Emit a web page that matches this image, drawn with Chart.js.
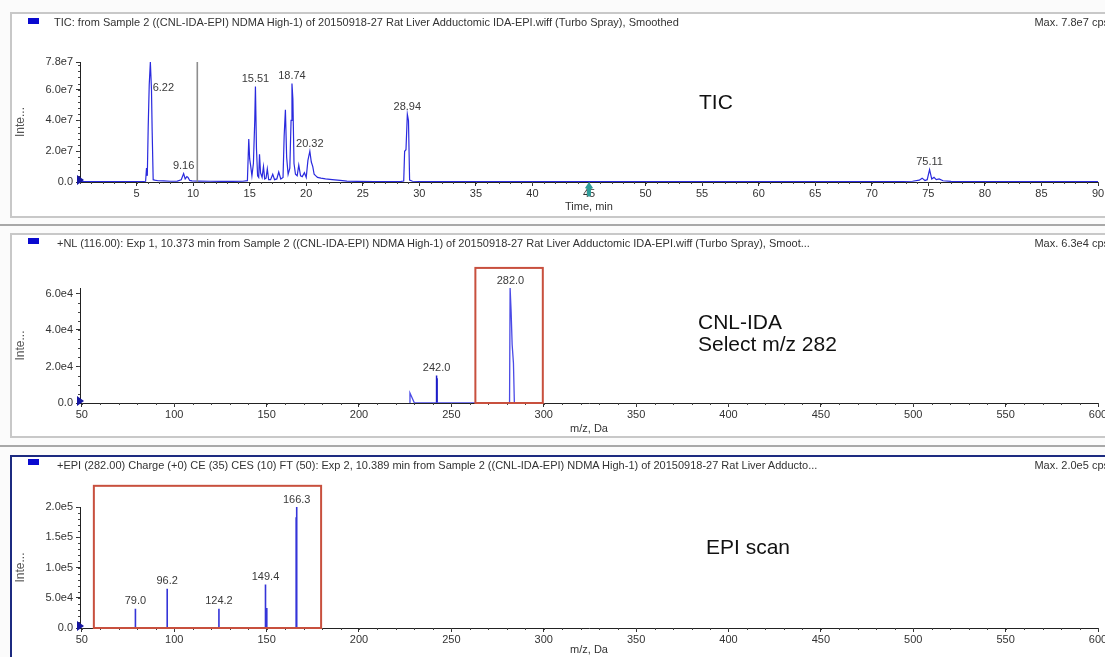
<!DOCTYPE html>
<html>
<head>
<meta charset="utf-8">
<script src="https://cdn.jsdelivr.net/npm/chart.js@4.4.0/dist/chart.umd.min.js"></script>
<style>
  html, body { margin: 0; padding: 0; overflow: hidden; }
  body { width: 1105px; height: 657px; position: relative; background: #fbfbfb;
         font-family: "Liberation Sans", Arial, sans-serif; color: #333; }
  .panel { position: absolute; left: 10px; width: 1110px; box-sizing: border-box;
           border: 2px solid #c8c8c8; background: #fff; }
  .sep { position: absolute; left: 0; width: 1105px; height: 2px; background: #a8a8a8; }
  canvas { position: absolute; left: 12px; }
  .ttl { position: absolute; font-size: 11px; line-height: 12px; white-space: nowrap; color: #333; }
  .max { position: absolute; right: -4px; font-size: 11px; line-height: 12px; white-space: nowrap; color: #333; }
  .sq { position: absolute; left: 28px; width: 11px; height: 6px; background: #0a0ad0; }
  .note { position: absolute; font-size: 21px; line-height: 22px; white-space: nowrap; color: #111; }
</style>
</head>
<body>
<div class="panel" style="top:12px;height:206px"></div>
<div class="sep" style="top:224px"></div>
<div class="panel" style="top:233px;height:205px"></div>
<div class="sep" style="top:445px"></div>
<div class="panel" style="top:455px;height:210px;border-color:#1c2a80;"></div>

<canvas id="tic" width="1093" height="202" style="top:14px"></canvas>
<canvas id="nl" width="1093" height="201" style="top:235px"></canvas>
<canvas id="epi" width="1093" height="199" style="top:458px"></canvas>

<div class="sq" style="top:18px"></div>
<div class="ttl" style="left:54px;top:16px">TIC: from Sample 2 ((CNL-IDA-EPI) NDMA High-1) of 20150918-27 Rat Liver Adductomic IDA-EPI.wiff (Turbo Spray), Smoothed</div>
<div class="max" style="top:16px">Max. 7.8e7 cps</div>

<div class="sq" style="top:238px"></div>
<div class="ttl" style="left:57px;top:237px">+NL (116.00): Exp 1, 10.373 min from Sample 2 ((CNL-IDA-EPI) NDMA High-1) of 20150918-27 Rat Liver Adductomic IDA-EPI.wiff (Turbo Spray), Smoot...</div>
<div class="max" style="top:237px">Max. 6.3e4 cps</div>

<div class="sq" style="top:459px"></div>
<div class="ttl" style="left:57px;top:459px">+EPI (282.00) Charge (+0) CE (35) CES (10) FT (50): Exp 2, 10.389 min from Sample 2 ((CNL-IDA-EPI) NDMA High-1) of 20150918-27 Rat Liver Adducto...</div>
<div class="max" style="top:459px">Max. 2.0e5 cps</div>

<div class="note" style="left:699px;top:91px">TIC</div>
<div class="note" style="left:698px;top:311px">CNL-IDA</div>
<div class="note" style="left:698px;top:333px">Select m/z 282</div>
<div class="note" style="left:706px;top:536px">EPI scan</div>

<script>
// TIC chromatogram (time in min, intensity in cps)
const ticTime = [
  0, 1, 2, 3, 4, 5, 5.5, 5.8, 5.88, 5.95,
  6.03, 6.12, 6.22, 6.32, 6.38, 6.47, 6.6, 6.9, 7.4, 8.0,
  8.6, 8.95, 9.16, 9.3, 9.45, 9.55, 9.7, 9.9, 10.5, 11.5,
  12.5, 13.5, 14.4, 14.8, 14.92, 15.0, 15.08, 15.2, 15.33, 15.45,
  15.51, 15.6, 15.7, 15.8, 15.87, 15.96, 16.1, 16.22, 16.33, 16.45,
  16.56, 16.68, 16.85, 17.04, 17.2, 17.4, 17.57, 17.75, 17.95, 18.05,
  18.16, 18.27, 18.4, 18.55, 18.66, 18.74, 18.82, 18.92, 19.05, 19.2,
  19.34, 19.5, 19.65, 19.84, 20.0, 20.15, 20.32, 20.45, 20.58, 20.7,
  20.85, 21.0, 21.3, 21.7, 22.3, 23.0, 23.6, 24.5, 26.0, 27.5,
  28.4, 28.62, 28.7, 28.82, 28.94, 29.04, 29.14, 29.4, 30.5, 33,
  37, 42, 48, 55, 62, 68, 72, 73.6, 74.2, 74.45,
  74.7, 74.9, 75.11, 75.3, 75.5, 75.7, 75.95, 76.3, 77, 79,
  83, 87, 90
];
const ticIntensity = [
  3e5, 2e5, 2e5, 2e5, 2e5, 2.5e5, 3e5, 5e5, 9e6, 4e6,
  3.6e7, 6.3e7, 7.8e7, 6.0e7, 3.3e7, 1.5e6, 1.2e6, 8e5, 7e5, 5e5,
  6e5, 1.5e6, 5.5e6, 2e6, 3.5e6, 3e6, 1e6, 7e5, 6e5, 5e5,
  4e5, 4e5, 5e5, 9e5, 2.8e7, 1.5e7, 1.1e7, 4e6, 1.2e7, 4.0e7,
  6.2e7, 2.2e7, 4e6, 3e6, 1.8e7, 6e6, 3e6, 1.0e7, 2e6, 2.5e6,
  8.5e6, 1.5e6, 1.5e6, 5e6, 1.5e6, 2e6, 6.5e6, 2e6, 3e6, 3.0e7,
  4.7e7, 1.6e7, 5e6, 9e6, 4.0e7, 6.4e7, 5.4e7, 1.2e7, 5e6, 4e6,
  1.1e7, 4e6, 3.5e6, 6e6, 3e6, 1.4e7, 2.0e7, 1.3e7, 1.0e7, 5e6,
  4e6, 3e6, 2.5e6, 2e6, 1.5e6, 1e6, 6e5, 4e5, 3e5, 3e5,
  4e5, 6e5, 2.0e7, 2.1e7, 4.4e7, 4.0e7, 1.2e6, 5e5, 3e5, 3e5,
  2e5, 2e5, 2e5, 2e5, 2e5, 2e5, 3e5, 5e5, 1.2e6, 2.5e6,
  1e6, 1.5e6, 8e6, 2e6, 3e6, 1.5e6, 2e6, 8e5, 4e5, 3e5,
  2e5, 2e5, 2e5
];
const ticPeakLabels = [6.22, 9.16, 15.51, 18.74, 20.32, 28.94, 75.11];
const ticCursorTime = [10.37];
const ticMarkerTime = [45];
const ticXLabels = [5, 10, 15, 20, 25, 30, 35, 40, 45, 50, 55, 60, 65, 70, 75, 80, 85, 90];
const ticYLabels = [0, 2e7, 4e7, 6e7, 7.8e7];

// neutral loss scan
const nlStickMz = [242.0, 242.3];
const nlStickInt = [1.5e4, 1.35e4];
const nlProfileMz = [227.5, 227.6, 230.0, 281.5, 281.8, 282.35, 282.9, 283.6, 284.1];
const nlProfileInt = [0, 5.5e3, 0, 0, 6.3e4, 5.0e4, 3.2e4, 2.2e4, 0];
const nlPeakLabels = [242.0, 282.0];
const nlYLabels = [0, 2e4, 4e4, 6e4];

// EPI product ion scan
const epiMz = [79.0, 96.2, 124.2, 149.4, 150.1, 166.0, 166.3];
const epiInt = [3.2e4, 6.5e4, 3.2e4, 7.2e4, 3.3e4, 1.83e5, 2.0e5];
const epiPeakLabels = [79.0, 96.2, 124.2, 149.4, 166.3];
const epiYLabels = [0, 5e4, 1e5, 1.5e5, 2e5];

const msXLabels = [50, 100, 150, 200, 250, 300, 350, 400, 450, 500, 550, 600];

const FONT = '"Liberation Sans", Arial, sans-serif';

function fmtExp(v) {
  if (v === 0) return '0.0';
  return v.toExponential(1).replace('e+', 'e');
}

function steps(min, max, step) {
  const out = [];
  for (let i = 0; min + i * step <= max + 1e-9; i++) out.push(min + i * step);
  return out;
}

function points(xs, ys) {
  return xs.map((x, i) => ({ x: x, y: ys[i] }));
}

function sticks(xs, ys) {
  const out = [];
  xs.forEach((x, i) => {
    out.push({ x: x, y: 0 }, { x: x, y: ys[i] }, { x: x, y: null });
  });
  return out;
}

function apex(xs, ys, at, win) {
  let best = 0;
  xs.forEach((x, i) => { if (Math.abs(x - at) <= win && ys[i] > best) best = ys[i]; });
  return best;
}

// draws minor ticks, peak labels, selection box, origin triangle and time marker
const decor = {
  id: 'decor',
  afterDraw(chart, args, o) {
    const ctx = chart.ctx;
    const xs = chart.scales.x, ys = chart.scales.y;
    const y0 = ys.getPixelForValue(0);
    ctx.save();

    ctx.strokeStyle = '#444';
    ctx.lineWidth = 1;
    ctx.beginPath();
    steps(o.xMinorFrom, xs.max, o.xMinor).forEach(v => {
      const px = Math.round(xs.getPixelForValue(v)) + 0.5;
      ctx.moveTo(px, ys.bottom); ctx.lineTo(px, ys.bottom + 2);
    });
    steps(0, ys.max, o.yMinor).forEach(v => {
      const py = Math.round(ys.getPixelForValue(v)) + 0.5;
      ctx.moveTo(xs.left - 2, py); ctx.lineTo(xs.left, py);
    });
    ctx.stroke();

    if (o.box) {
      ctx.strokeStyle = '#c8503e';
      ctx.lineWidth = 2;
      const bx0 = xs.getPixelForValue(o.box[0]), bx1 = xs.getPixelForValue(o.box[1]);
      const by = ys.getPixelForValue(o.box[2]);
      ctx.strokeRect(bx0, by, bx1 - bx0, y0 - by);
    }

    ctx.fillStyle = '#3a3a3a';
    ctx.font = '11px ' + FONT;
    ctx.textAlign = 'center';
    ctx.textBaseline = 'bottom';
    o.labels.forEach(l => {
      const px = xs.getPixelForValue(l.x) + (l.dx || 0);
      const py = ys.getPixelForValue(l.y) - 2;
      ctx.fillText(l.text, px, py);
    });

    ctx.fillStyle = '#1616a0';
    ctx.beginPath();
    ctx.moveTo(xs.left - 3, y0 - 7);
    ctx.lineTo(xs.left + 4, y0 - 2);
    ctx.lineTo(xs.left - 3, y0 + 3);
    ctx.closePath();
    ctx.fill();

    (o.marker || []).forEach(t => {
      const px = xs.getPixelForValue(t);
      ctx.fillStyle = '#2e9c98';
      ctx.beginPath();
      ctx.moveTo(px, y0);
      ctx.lineTo(px + 4, y0 + 6);
      ctx.lineTo(px + 2, y0 + 7);
      ctx.lineTo(px + 2, y0 + 13);
      ctx.lineTo(px, y0 + 15);
      ctx.lineTo(px - 2, y0 + 13);
      ctx.lineTo(px - 2, y0 + 7);
      ctx.lineTo(px - 4, y0 + 6);
      ctx.closePath();
      ctx.fill();
    });
    ctx.restore();
  }
};

function makeChart(id, c) {
  return new Chart(document.getElementById(id), {
    type: 'line',
    data: { datasets: c.datasets },
    options: {
      responsive: false,
      animation: false,
      events: [],
      layout: { padding: { left: 0, right: 7, top: c.padTop, bottom: 0 } },
      elements: { point: { radius: 0 }, line: { tension: 0 } },
      plugins: {
        legend: { display: false },
        tooltip: { enabled: false },
        decor: c.decor
      },
      scales: {
        x: {
          type: 'linear', min: c.xMin, max: c.xMax,
          afterBuildTicks: s => { s.ticks = c.xLabels.map(v => ({ value: v })); },
          afterFit: s => { s.height = c.xHeight; s.paddingLeft = 0; s.paddingRight = 0; },
          border: { color: '#222', width: 1 },
          grid: { drawOnChartArea: false, tickLength: 4, tickColor: '#333' },
          ticks: { autoSkip: false, maxRotation: 0, padding: 1, color: '#333',
                   font: { family: FONT, size: 11 }, callback: v => String(v) },
          title: { display: true, text: c.xTitle, color: '#333',
                   font: { family: FONT, size: 11 }, padding: { top: 0, bottom: c.xTitlePad } }
        },
        y: {
          type: 'linear', min: 0, max: c.yMax,
          afterBuildTicks: s => { s.ticks = c.yLabels.map(v => ({ value: v })); },
          afterFit: s => { s.width = 68; s.paddingTop = 0; s.paddingBottom = 0; },
          border: { color: '#222', width: 1 },
          grid: { drawOnChartArea: false, tickLength: 4, tickColor: '#333' },
          ticks: { autoSkip: false, padding: 3, color: '#333',
                   font: { family: FONT, size: 11 }, callback: v => fmtExp(v) },
          title: { display: true, text: 'Inte...', color: '#555',
                   font: { family: FONT, size: 12 }, padding: { top: 1, bottom: 0 } }
        }
      }
    },
    plugins: [decor]
  });
}

const ticMax = 7.8e7;
makeChart('tic', {
  padTop: 48, xHeight: 34, xTitlePad: 2,
  xMin: 0, xMax: 90, yMax: ticMax,
  xLabels: ticXLabels, yLabels: ticYLabels, xTitle: 'Time, min',
  datasets: [
    { data: ticCursorTime.flatMap(t => [{ x: t, y: 0 }, { x: t, y: ticMax }]),
      borderColor: '#8e8e8e', borderWidth: 1.6 },
    { data: points(ticTime, ticIntensity), borderColor: '#2a2ade', borderWidth: 1.2 }
  ],
  decor: {
    xMinorFrom: 0, xMinor: 1, yMinor: 4e6, marker: ticMarkerTime,
    labels: ticPeakLabels.map(t => {
      const lab = { x: t, y: apex(ticTime, ticIntensity, t, 0.12), text: t.toFixed(2) };
      if (t === 6.22) { lab.dx = 13; lab.y = 5.6e7; }
      return lab;
    })
  }
});

const nlAllMz = nlStickMz.concat(nlProfileMz), nlAllInt = nlStickInt.concat(nlProfileInt);
makeChart('nl', {
  padTop: 53, xHeight: 33, xTitlePad: 0,
  xMin: 49, xMax: 600, yMax: 6.3e4,
  xLabels: msXLabels, yLabels: nlYLabels, xTitle: 'm/z, Da',
  datasets: [
    { data: points(nlProfileMz, nlProfileInt), borderColor: '#4a4ae6', borderWidth: 1.3 },
    { data: sticks(nlStickMz, nlStickInt), borderColor: '#1c1cc8', borderWidth: 1.5, spanGaps: false }
  ],
  decor: {
    xMinorFrom: 50, xMinor: 10, yMinor: 5e3, box: [263, 299.5, 7.4e4],
    labels: nlPeakLabels.map(m => ({ x: m, y: apex(nlAllMz, nlAllInt, m, 0.6), text: m.toFixed(1) }))
  }
});

makeChart('epi', {
  padTop: 49, xHeight: 29, xTitlePad: 0,
  xMin: 49, xMax: 600, yMax: 2.0e5,
  xLabels: msXLabels, yLabels: epiYLabels, xTitle: 'm/z, Da',
  datasets: [
    { data: sticks(epiMz, epiInt), borderColor: '#3434d8', borderWidth: 1.6, spanGaps: false }
  ],
  decor: {
    xMinorFrom: 50, xMinor: 10, yMinor: 1e4, box: [56.5, 179.5, 2.35e5],
    labels: epiPeakLabels.map(m => ({ x: m, y: apex(epiMz, epiInt, m, 0.5), text: m.toFixed(1) }))
  }
});
</script>
</body>
</html>
